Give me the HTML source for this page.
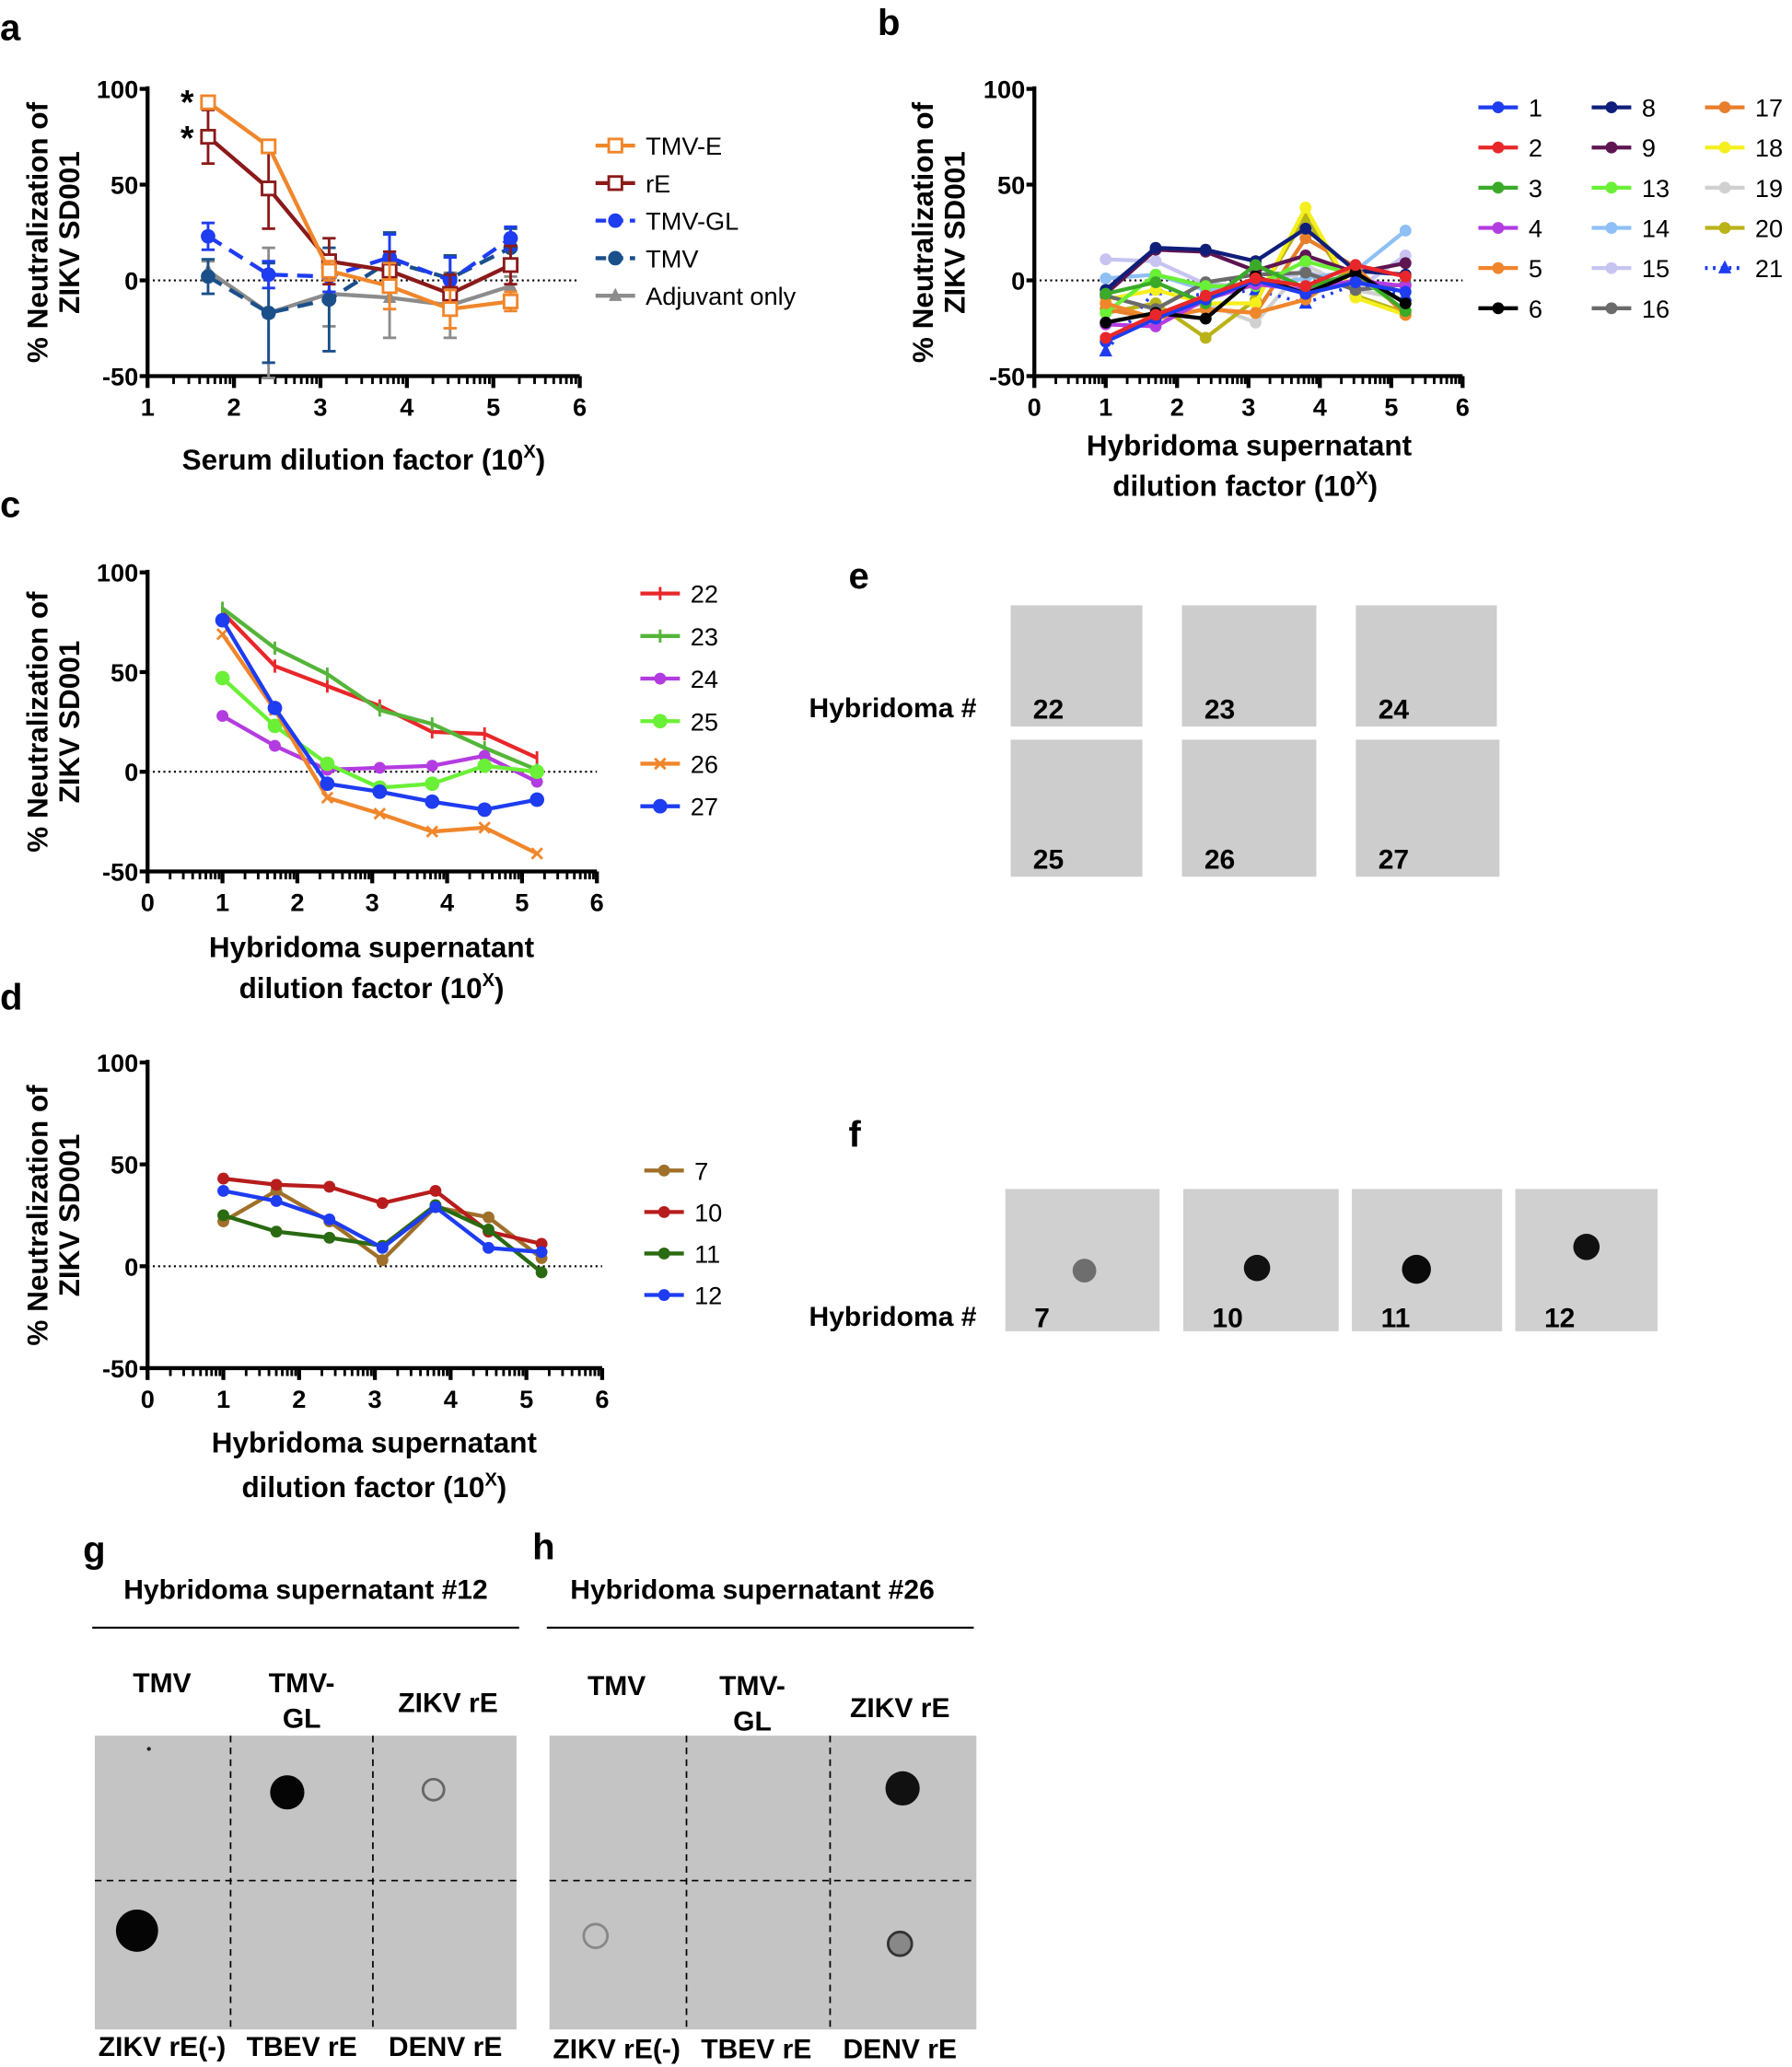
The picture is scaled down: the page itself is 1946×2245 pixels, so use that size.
<!DOCTYPE html>
<html><head><meta charset="utf-8"><style>
html,body{margin:0;padding:0;background:#fff;}
svg{display:block;font-family:"Liberation Sans",sans-serif;}
.lbl{font-weight:bold;font-size:28px;}
.tk{font-weight:bold;font-size:19px;}
.at{font-weight:bold;font-size:22px;}
.lg{font-size:19px;}
.bl{font-weight:bold;font-size:21px;}
</style></head><body>
<svg id="fig" width="1946" height="2245" viewBox="0 0 1360 1568" xmlns="http://www.w3.org/2000/svg">
<text class="lbl" x="0" y="30">a</text>
<text class="lbl" x="666" y="26">b</text>
<text class="lbl" x="0" y="392">c</text>
<text class="lbl" x="0" y="766">d</text>
<text class="lbl" x="644" y="446">e</text>
<text class="lbl" x="644" y="870">f</text>
<text class="lbl" x="63" y="1185">g</text>
<text class="lbl" x="404" y="1183">h</text>
<g id="charts"></g>
<g id="blots"></g>
</svg>
<script>
// ---------- data ----------
const xA = [1.7,2.4,3.1,3.8,4.5,5.2];
const namesA = ["TMV-E","rE","TMV-GL","TMV","Adjuvant only"];
const valTMVE = [93,70,5,-3,-15,-11];
const valRE = [75,48,10,5,-7,8];
const valTMVGL = [23,3,2,12,0,22];
const valTMV = [2,-17,-10,10,1,17];
const valAdj = [5,-17,-7,-9,-13,-3];
const errTMVE = [2,3,5,12,10,5];
const errRE = [14,21,12,10,10,10];
const errTMVGL = [7,7,8,12,12,6];
const errTMV = [9,26,27,15,12,10];
const errAdj = [5,34,17,21,17,5];

const xB = [1,1.7,2.4,3.1,3.8,4.5,5.2];
const namesB = ["1","2","3","4","5","6","8","9","13","14","15","16","17","18","19","20","21"];
const b1=[-32,-20,-10,0,-7,-1,-6];
const b2=[-30,-18,-8,1,-3,8,2];
const b3=[-7,-1,-12,8,-4,4,-16];
const b4=[-23,-24,-10,-2,-5,0,-3];
const b5=[-12,-20,-15,-17,-10,7,-18];
const b6=[-22,-17,-20,2,-7,4,-12];
const b8=[-5,17,16,10,27,5,3];
const b9=[-7,16,15,5,13,4,9];
const b13=[-17,3,-3,-3,10,3,-16];
const b14=[1,3,-5,-3,1,5,26];
const b15=[11,10,-2,-3,5,-5,13];
const b16=[-8,-15,-1,3,4,-5,-2];
const b17=[-15,-20,-15,-17,22,7,-18];
const b18=[-10,-5,-12,-12,38,-9,-18];
const b19=[-22,-17,-12,-22,8,-5,-10];
const b20=[-17,-12,-30,-10,33,-8,-17];
const b21=[-37,-5,-8,-5,-12,-2,-8];

const namesC = ["22","23","24","25","26","27"];
const c22=[80,53,43,33,20,19,7];
const c23=[82,62,49,31,24,12,1];
const c24=[28,13,1,2,3,8,-5];
const c25=[47,23,4,-8,-6,3,0];
const c26=[69,31,-13,-21,-30,-28,-41];
const c27=[76,32,-6,-10,-15,-19,-14];

const namesD = ["7","10","11","12"];
const d7=[22,37,22,3,29,24,4];
const d10=[43,40,39,31,37,17,11];
const d11=[25,17,14,10,30,18,-3];
const d12=[37,32,23,9,29,9,7];

const yTicks = [100,50,0,-50];
// ---------- helpers ----------
const NS="http://www.w3.org/2000/svg";
const root=document.getElementById('charts');
function mk(tag,attrs,parent){const e=document.createElementNS(NS,tag);for(const k in attrs)e.setAttribute(k,attrs[k]);(parent||root).appendChild(e);return e;}

function axes(P,xt,yTitleX,xTitleLines){
  const g=mk('g',{});
  
  
  mk('line',{x1:P.x0,y1:P.y1-2,x2:P.x0,y2:P.y2,stroke:'#000','stroke-width':3},g);
  mk('line',{x1:P.x0,y1:P.y2,x2:P.x1,y2:P.y2,stroke:'#000','stroke-width':3},g);
  yTicks.forEach(v=>{const y=P.sy(v);
    mk('line',{x1:P.x0-6,y1:y,x2:P.x0,y2:y,stroke:'#000','stroke-width':3},g);
    const t=mk('text',{x:P.x0-7,y:y+7,'text-anchor':'end','class':'tk'},g);t.textContent=v;
  });
  mk('line',{x1:P.x0,y1:P.sy(0),x2:P.x1,y2:P.sy(0),stroke:'#000','stroke-width':1.5,'stroke-dasharray':'1.5,2.5'},g);
  for(let d=P.xmin;d<=P.xmax;d++){const x=P.sx(d);
    mk('line',{x1:x,y1:P.y2,x2:x,y2:P.y2+9,stroke:'#000','stroke-width':3},g);
    const t=mk('text',{x:x,y:P.y2+30,'text-anchor':'middle','class':'tk'},g);t.textContent=d;
    if(d<P.xmax){for(let m=2;m<=9;m++){const xm=P.sx(d+Math.log10(m));mk('line',{x1:xm,y1:P.y2,x2:xm,y2:P.y2+6,stroke:'#000','stroke-width':2},g);}}
  }
  const yt=mk('text',{'class':'at','text-anchor':'middle',transform:`translate(${yTitleX},${(P.y1+P.y2)/2}) rotate(-90)`},g);
  
  
  const s1=mk('tspan',{x:0,dy:0},yt);s1.textContent='% Neutralization of';
  const s2=mk('tspan',{x:0,dy:24},yt);s2.textContent='ZIKV SD001';
  xTitleLines.forEach((l,i)=>{
    const t=mk('text',{x:l[1],y:l[2],'text-anchor':'middle','class':'at'},g);
    
    
    t.textContent=l[0];
    if(l[3]){const s=mk('tspan',{'font-size':14,dy:-9},t);s.textContent='X';const s3=mk('tspan',{dy:9},t);s3.textContent=')';}
  });
}
function series(P,xs,ys,color,opts){
  opts=opts||{};
  const g=mk('g',{});
  
  
  if(opts.err){xs.forEach((x,i)=>{const X=P.sx(x);const a=P.sy(ys[i]+opts.err[i]),b=P.sy(ys[i]-opts.err[i]);
    mk('line',{x1:X,y1:a,x2:X,y2:b,stroke:color,'stroke-width':2},g);
    mk('line',{x1:X-5,y1:a,x2:X+5,y2:a,stroke:color,'stroke-width':2},g);
    mk('line',{x1:X-5,y1:b,x2:X+5,y2:b,stroke:color,'stroke-width':2},g);});}
  const pts=xs.map((x,i)=>P.sx(x)+','+P.sy(ys[i])).join(' ');
  const pl=mk('polyline',{points:pts,fill:'none',stroke:color,'stroke-width':opts.w||3,'stroke-dasharray':opts.dash||'none'},g);
  
  
  xs.forEach((x,i)=>{const X=P.sx(x),Y=P.sy(ys[i]);drawMarker(g,opts.m||'dot',X,Y,color);});
}
function drawMarker(g,m,X,Y,color){
  if(m==='sq')mk('rect',{x:X-5,y:Y-5,width:10,height:10,fill:'#fff',stroke:color,'stroke-width':2},g);
  else if(m==='tri')mk('polygon',{points:`${X},${Y-6} ${X-5},${Y+4} ${X+5},${Y+4}`,fill:color},g);
  else if(m==='plus'){mk('line',{x1:X,y1:Y-5,x2:X,y2:Y+5,stroke:color,'stroke-width':2},g);}
  else if(m==='x'){mk('path',{d:`M${X-4},${Y-4}L${X+4},${Y+4}M${X-4},${Y+4}L${X+4},${Y-4}`,stroke:color,'stroke-width':2},g);}
  else if(m==='none'){}
  else mk('circle',{cx:X,cy:Y,r:opts_r(m),fill:color},g);
}
function opts_r(m){return m==='big'?5.5:4.5;}
function legendEntry(P,x,y,label,color,m,dash,fs){
  const g=mk('g',{});
  
  
  mk('line',{x1:x,y1:y,x2:x+30,y2:y,stroke:color,'stroke-width':3,'stroke-dasharray':dash||'none'},g);
  drawMarker(g,m,x+15,y,color);
  const t=mk('text',{x:x+38,y:y+7,'class':'lg','font-size':fs||19},g);t.textContent=label;
}
function mkP(name,x0,x1,y1,y2,xmin,xmax){
  return {name,x0,x1,y1,y2,xmin,xmax,sx:v=>x0+(v-xmin)/(xmax-xmin)*(x1-x0),sy:v=>y1+(100-v)/150*(y2-y1)};
}
// ---------- panel a ----------
const PA=mkP('panel-a',112,440,67,285,1,6);
axes(PA,null,36,[["Serum dilution factor (10",276,356,true]]);
const colA=['#f0862b','#8b1a1a','#1e3cf0','#1a4f8a','#8c8c8c'];
series(PA,xA,valAdj,colA[4],{label:'adjuvant',err:errAdj,m:'tri'});
series(PA,xA,valTMV,colA[3],{label:'tmv',err:errTMV,dash:'12,7',m:'big'});
series(PA,xA,valTMVGL,colA[2],{label:'tmv-gl',err:errTMVGL,dash:'12,7',m:'big'});
series(PA,xA,valRE,colA[1],{label:'re',err:errRE,m:'sq'});
series(PA,xA,valTMVE,colA[0],{label:'tmv-e',err:errTMVE,m:'sq'});
[["*",137,86],["*",137,113]].forEach(s=>{const t=mk('text',{x:s[1],y:s[2],'font-size':26,'font-weight':'bold'});t.textContent=s[0];});
const mA=['sq','sq','big','big','tri'],dA=[null,null,'8,5','8,5',null];
namesA.forEach((n,i)=>legendEntry(PA,452,110+i*28.5,n,colA[i],mA[i],dA[i],20));
// ---------- panel b ----------
const PB=mkP('panel-b',785,1110,67,285,0,6);
axes(PB,null,708,[["Hybridoma supernatant",948,345,false],["dilution factor (10",945,376,true]]);
const dataB=[b1,b2,b3,b4,b5,b6,b8,b9,b13,b14,b15,b16,b17,b18,b19,b20,b21];
const colB=['#1e3cf0','#e8272a','#3aaa28','#b33ce0','#f0862b','#000000','#0f1e7a','#5e1552','#6af036','#8ec0f5','#c7c4f2','#6b6b6b','#e87e2a','#f5ef1e','#d0d0d0','#b9b318','#1e3cf0'];
const orderB=[14,10,9,15,16,12,13,11,7,6,8,4,3,2,5,0,1];
orderB.forEach(i=>series(PB,xB,dataB[i],colB[i],{label:namesB[i],m:i===16?'tri':'dot',dash:i===16?'2,5':'none',w:i===16?2.5:3}));
namesB.forEach((n,i)=>{const col=Math.floor(i/6),row=i%6;legendEntry(PB,1122+col*86,81+row*30.5,n,colB[i],i===16?'tri':'dot',i===16?'2,4':null,17);});
// ---------- panel c ----------
const PC=mkP('panel-c',112,453,434,661,0,6);
axes(PC,null,36,[["Hybridoma supernatant",282,726,false],["dilution factor (10",282,757,true]]);
const dataC=[c22,c23,c24,c25,c26,c27];
const colC=['#e8272a','#55b53a','#b33ce0','#6af036','#f0862b','#1e3cf0'];
const mC=['plus','plus','dot','big','x','big'];
dataC.forEach((d,i)=>series(PC,xB,d,colC[i],{label:namesC[i],m:mC[i]}));
namesC.forEach((n,i)=>legendEntry(PC,486,450+i*32.3,n,colC[i],mC[i],null,20));
// ---------- panel d ----------
const PD=mkP('panel-d',112,457,806,1038,0,6);
axes(PD,null,36,[["Hybridoma supernatant",284,1102,false],["dilution factor (10",284,1136,true]]);
const dataD=[d7,d10,d11,d12];
const colD=['#a0702a','#b81c1c','#2a6a12','#1e3cf0'];
dataD.forEach((d,i)=>series(PD,xB,d,colD[i],{label:namesD[i],m:'dot'}));
namesD.forEach((n,i)=>legendEntry(PD,489,888+i*31.5,n,colD[i],'dot',null,20));

// ---------- blots ----------
const B=document.getElementById('blots');
function tile(x,y,w,h,fill,name){const r=mk('rect',{x,y,width:w,height:h,fill},B);return r;}
function txt(x,y,s,cls,anchor,name,fs){const t=mk('text',{x,y,'class':cls,'text-anchor':anchor||'start'},B);if(fs)t.setAttribute('font-size',fs);t.textContent=s;return t;}
// e
txt(614,544,'Hybridoma #','bl','start','panel-e-hybridoma-label',21);
[[767,459,100,92,'22'],[897,459,102,92,'23'],[1029,459,107,92,'24'],[767,561,100,104,'25'],[897,561,102,104,'26'],[1029,561,109,104,'27']].forEach(t=>{
  tile(t[0],t[1],t[2],t[3],'#cdcdcd','blot-tile-'+t[4]);
  txt(t[0]+17,t[1]+t[3]-6,t[4],'bl','start','blot-number-'+t[4],22);
});
// f
txt(614,1006,'Hybridoma #','bl','start','panel-f-hybridoma-label',21);
[[763,902,117,108,'7',823,964,9,'#6e6e6e'],[898,902,118,108,'10',954,962,10,'#111'],[1026,902,114,108,'11',1075,963,11,'#0a0a0a'],[1150,902,108,108,'12',1204,946,10,'#111']].forEach(t=>{
  tile(t[0],t[1],t[2],t[3],'#d0d0d0','blot-tile-'+t[4]);
  const c=mk('circle',{cx:t[5],cy:t[6],r:t[7],fill:t[8]},B);
  txt(t[0]+22,t[1]+t[3]-3,t[4],'bl','start','blot-number-'+t[4],22);
});
// g & h
function dotPanel(p,x0,x1,v1,v2,title,tx,dots,hdr){
  txt(tx,1213,title,'bl','middle','panel-'+p+'-title',21);
  mk('line',{x1:x0-2,y1:1235,x2:x0+322,y2:1235,stroke:'#000','stroke-width':1.5},B);
  tile(x0,1317,x1-x0,223,'#c4c4c4','panel-'+p+'-membrane');
  [v1,v2].forEach(v=>mk('line',{x1:v,y1:1317,x2:v,y2:1540,stroke:'#000','stroke-width':1.2,'stroke-dasharray':'5,4'},B));
  mk('line',{x1:x0,y1:1427,x2:x1,y2:1427,stroke:'#000','stroke-width':1.2,'stroke-dasharray':'5,4'},B);
  dots.forEach(d=>{const c=mk('circle',{cx:d[0],cy:d[1],r:d[2],fill:d[3],stroke:d[4]||'none','stroke-width':2},B);});
  hdr.forEach(h=>txt(h[1],h[2],h[0],'bl','middle','panel-'+p+'-col-label',20));
}
dotPanel('g',72,392,175,283,'Hybridoma supernatant #12',232,
 [[113,1327,1.5,'#222'],[218,1360,13,'#050505'],[329,1358,8,'none','#666'],[104,1465,16,'#050505']],
 [['TMV',123,1284],['TMV-',229,1284],['GL',229,1311],['ZIKV rE',340,1299],['ZIKV rE(-)',123,1560],['TBEV rE',229,1560],['DENV rE',338,1560]]);
dotPanel('h',417,741,521,630,'Hybridoma supernatant #26',571,
 [[685,1357,13,'#111'],[452,1469,9,'none','#888'],[683,1475,9,'#888','#333']],
 [['TMV',468,1286],['TMV-',571,1286],['GL',571,1313],['ZIKV rE',683,1303],['ZIKV rE(-)',468,1562],['TBEV rE',574,1562],['DENV rE',683,1562]]);
</script>
</body></html>
